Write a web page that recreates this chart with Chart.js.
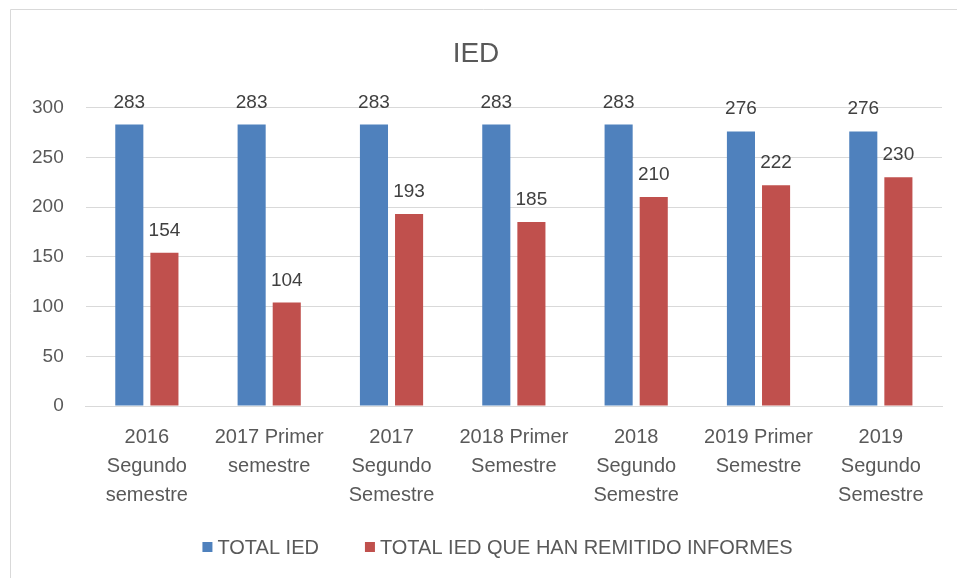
<!DOCTYPE html>
<html>
<head>
<meta charset="utf-8">
<script src="https://cdn.jsdelivr.net/npm/chart.js@4"></script>
<style>
  html, body { margin: 0; padding: 0; background: #fff; }
  #wrap { width: 957px; height: 578px; position: relative; }
</style>
</head>
<body>
<div id="wrap"><canvas id="chart"></canvas></div>
<script>
const categories = [
    ["2016", "Segundo", "semestre"],
    ["2017 Primer", "semestre"],
    ["2017", "Segundo", "Semestre"],
    ["2018 Primer", "Semestre"],
    ["2018", "Segundo", "Semestre"],
    ["2019 Primer", "Semestre"],
    ["2019", "Segundo", "Semestre"],
];
const totalIed = [283, 283, 283, 283, 283, 276, 276];
const iedInformes = [154, 104, 193, 185, 210, 222, 230];
const seriesNames = ["TOTAL IED", "TOTAL IED QUE HAN REMITIDO INFORMES"];
const seriesColors = ["#4f81bd", "#c0504d"];

const FONT = "'Liberation Sans', Arial, sans-serif";
const TEXT = "#595959";

// value labels above each bar
const barLabels = {
    id: "barLabels",
    afterDatasetsDraw(chart) {
        const ctx = chart.ctx;
        ctx.save();
        ctx.font = "19px " + FONT;
        ctx.fillStyle = "#404040";
        ctx.textAlign = "center";
        ctx.textBaseline = "alphabetic";
        chart.data.datasets.forEach((ds, i) => {
            chart.getDatasetMeta(i).data.forEach((bar, j) => {
                ctx.fillText(ds.data[j], bar.x, bar.y - 17);
            });
        });
        ctx.restore();
    },
};

// legend drawn by hand so its spacing can follow the original
const bottomLegend = {
    id: "bottomLegend",
    afterDraw(chart) {
        const ctx = chart.ctx;
        const box = 10, gap = 5, between = 46;
        ctx.save();
        ctx.font = "20px " + FONT;
        ctx.textBaseline = "middle";
        const widths = seriesNames.map((n) => ctx.measureText(n).width);
        let total = 0;
        widths.forEach((w, i) => { total += box + gap + w + (i ? 0 : between); });
        let x = chart.width / 2 + 19 - total / 2;
        const y = chart.height - 31;
        chart.data.datasets.forEach((ds, i) => {
            ctx.fillStyle = ds.backgroundColor;
            ctx.fillRect(x, y - box / 2, box, box);
            x += box + gap;
            ctx.fillStyle = TEXT;
            ctx.fillText(ds.label, x, y + 1);
            x += widths[i] + between;
        });
        ctx.restore();
    },
};

// light frame like the office chart area
const frame = {
    id: "frame",
    beforeDraw(chart) {
        const ctx = chart.ctx;
        ctx.save();
        ctx.strokeStyle = "#d9d9d9";
        ctx.lineWidth = 1;
        ctx.beginPath();
        ctx.moveTo(10.5, chart.height);
        ctx.lineTo(10.5, 9.5);
        ctx.lineTo(chart.width, 9.5);
        ctx.stroke();
        ctx.restore();
    },
};

new Chart(document.getElementById("chart"), {
    type: "bar",
    data: {
        labels: categories,
        datasets: [
            {
                label: seriesNames[0],
                data: totalIed,
                backgroundColor: seriesColors[0],
                categoryPercentage: 0.574,
                barPercentage: 0.8,
            },
            {
                label: seriesNames[1],
                data: iedInformes,
                backgroundColor: seriesColors[1],
                categoryPercentage: 0.574,
                barPercentage: 0.8,
            },
        ],
    },
    options: {
        responsive: true,
        maintainAspectRatio: false,
        animation: false,
        layout: { padding: { top: 37, left: 10, right: 15, bottom: 59 } },
        scales: {
            x: {
                grid: { display: false },
                border: { color: "#d9d9d9" },
                ticks: {
                    color: TEXT,
                    font: { family: FONT, size: 20, lineHeight: 1.45 },
                    maxRotation: 0,
                    autoSkip: false,
                    padding: 9,
                },
            },
            y: {
                min: 0,
                max: 300,
                border: { display: false },
                grid: { color: "#d9d9d9", drawTicks: false },
                ticks: {
                    stepSize: 50,
                    color: TEXT,
                    font: { family: FONT, size: 19 },
                    padding: 22,
                },
            },
        },
        plugins: {
            title: {
                display: true,
                text: "IED",
                color: TEXT,
                font: { family: FONT, size: 28, weight: "normal" },
                padding: { top: 0, bottom: 37 },
            },
            legend: { display: false },
            tooltip: { enabled: false },
        },
    },
    plugins: [barLabels, bottomLegend, frame],
});
</script>
</body>
</html>
